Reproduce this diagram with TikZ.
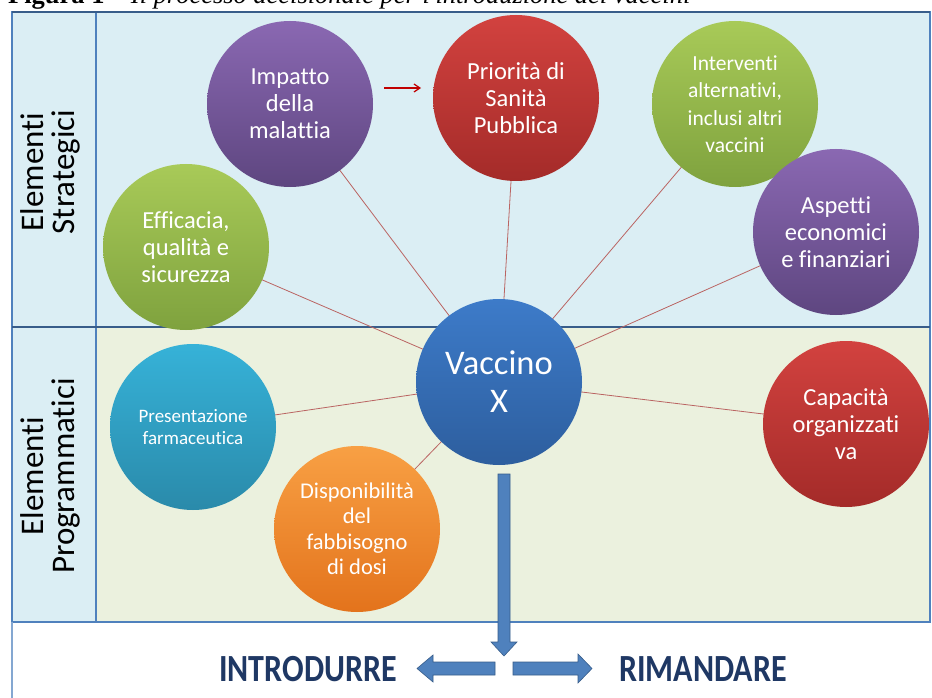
\documentclass[tikz,border=0pt]{standalone}
\usepackage{fontspec}
\setmainfont{Carlito}[Ligatures={NoCommon}]
\newfontfamily\capfont{Liberation Serif}
\usetikzlibrary{arrows.meta}
\pgfdeclarelayer{back}
\pgfdeclarelayer{bg}
\pgfsetlayers{back,bg,main}
\definecolor{bandblue}{HTML}{DBEEF4}
\definecolor{bandgreen}{HTML}{EBF1DE}
\definecolor{framecol}{HTML}{4F81BD}
\definecolor{framedark}{HTML}{385D8A}
\definecolor{linkcol}{HTML}{BA6462}
\definecolor{navy}{HTML}{1F3864}
\definecolor{arrowred}{HTML}{C00000}
\definecolor{violetT}{HTML}{8A68B2}
\definecolor{violetB}{HTML}{5E4680}
\definecolor{redT}{HTML}{D2423F}
\definecolor{redB}{HTML}{A42B29}
\definecolor{greenT}{HTML}{A8CA58}
\definecolor{greenB}{HTML}{7FA23E}
\definecolor{blueT}{HTML}{3D7BC9}
\definecolor{blueB}{HTML}{2D5E9E}
\definecolor{tealT}{HTML}{36B2D8}
\definecolor{tealB}{HTML}{2A8AAA}
\definecolor{orangeT}{HTML}{F8A044}
\definecolor{orangeB}{HTML}{E3731C}
\tikzset{
  bubble/.style={circle, minimum size=166pt, inner sep=0pt, text=white, align=center,
    font=\fontsize{24.5}{27}\selectfont},
  link/.style={draw=linkcol, line width=0.8pt},
  blockarrow/.style={fill=framecol, draw=framedark, line width=0.6pt, line join=miter},
  sidelabel/.style={rotate=90, align=center, font=\fontsize{33}{31}\selectfont, text=black},
  outlabel/.style={font=\bfseries\fontsize{32}{36}\selectfont, text=navy, inner sep=0pt}
}
\begin{document}
\begin{tikzpicture}[x=1pt,y=-1pt]
\useasboundingbox (0,0) rectangle (932,698);
\clip (0,0) rectangle (932,698);
\begin{pgfonlayer}{back}
\fill[white] (0,0) rectangle (932,698);
% bands
\fill[bandblue] (12,12) rectangle (930,327);
\fill[bandgreen] (96,327) rectangle (930,622);
\fill[bandblue] (12,327) rectangle (96,622);
\draw[framecol, line width=1.2pt] (12,12) rectangle (930,622);
\draw[framecol, line width=1.2pt] (96,12) -- (96,622);
\draw[framedark, line width=1.6pt] (12,327) -- (930,327);
\draw[framecol!70, line width=1.2pt] (12,622) -- (12,698);
\draw[framedark, line width=1.6pt] (12,12) -- (930,12);
\end{pgfonlayer}
% caption (cut at the top, as in the reference)
\node[anchor=base west, inner sep=0pt] (caption) at (8,4)
  {\resizebox{682pt}{!}{\capfont\textbf{Figura 1} – \textit{Il processo decisionale per l'introduzione dei vaccini}}};
% side labels
\node[sidelabel] (strat) at (50,172) {Elementi\\Strategici};
\node[sidelabel] (progr) at (50,476) {Elementi\\Programmatici};
% bubbles
\node[bubble, top color=violetT, bottom color=violetB] (impatto) at (290,104) {Impatto\\della\\malattia};
\node[bubble, top color=redT, bottom color=redB] (priorita) at (516,98) {Priorità di\\Sanità\\Pubblica};
\node[bubble, top color=greenT, bottom color=greenB, font=\fontsize{21.5}{27.5}\selectfont] (interventi) at (735,104) {Interventi\\alternativi,\\inclusi altri\\vaccini};
\node[bubble, top color=greenT, bottom color=greenB] (efficacia) at (186,247) {Efficacia,\\qualità e\\sicurezza};
\node[bubble, top color=violetT, bottom color=violetB] (aspetti) at (836,232) {Aspetti\\economici\\e finanziari};
\node[bubble, top color=blueT, bottom color=blueB, font=\fontsize{34.5}{38}\selectfont] (vaccino) at (499,382) {Vaccino\\X};
\node[bubble, top color=tealT, bottom color=tealB, font=\fontsize{19}{22}\selectfont] (present) at (193,427) {Presentazione\\farmaceutica};
\node[bubble, top color=orangeT, bottom color=orangeB, font=\fontsize{22.5}{25.5}\selectfont] (dispon) at (357,529) {Disponibilità\\del\\fabbisogno\\di dosi};
\node[bubble, top color=redT, bottom color=redB] (capacita) at (846,424) {Capacità\\organizzati\\va};
% links (behind the bubbles)
\begin{pgfonlayer}{bg}
\foreach \t in {impatto,priorita,interventi,efficacia,aspetti,present,dispon,capacita}
  \draw[link] (vaccino.center) -- (\t.center);
\end{pgfonlayer}
% red arrow
\coordinate (ra1) at (384,88);
\coordinate (ra2) at (421,88);
\draw[arrowred, line width=1.2pt, -{Straight Barb[length=6pt,width=8pt]}] (ra1) -- (ra2);
% block arrows
\draw[blockarrow] (498,474) -- (510,474) -- (510,642) -- (517,642) -- (504,656) -- (491,642) -- (498,642) -- cycle;
\draw[blockarrow] (495,662) -- (433,662) -- (433,655) -- (417,668.5) -- (433,682) -- (433,675) -- (495,675) -- cycle;
\draw[blockarrow] (513,662) -- (578,662) -- (578,654) -- (592,668.5) -- (578,683) -- (578,675) -- (513,675) -- cycle;
\node[outlabel] (intro) at (308,669) {\scalebox{1}[1.2]{INTRODURRE}};
\node[outlabel] (riman) at (703,669) {\scalebox{1}[1.2]{RIMANDARE}};
\end{tikzpicture}
\end{document}
